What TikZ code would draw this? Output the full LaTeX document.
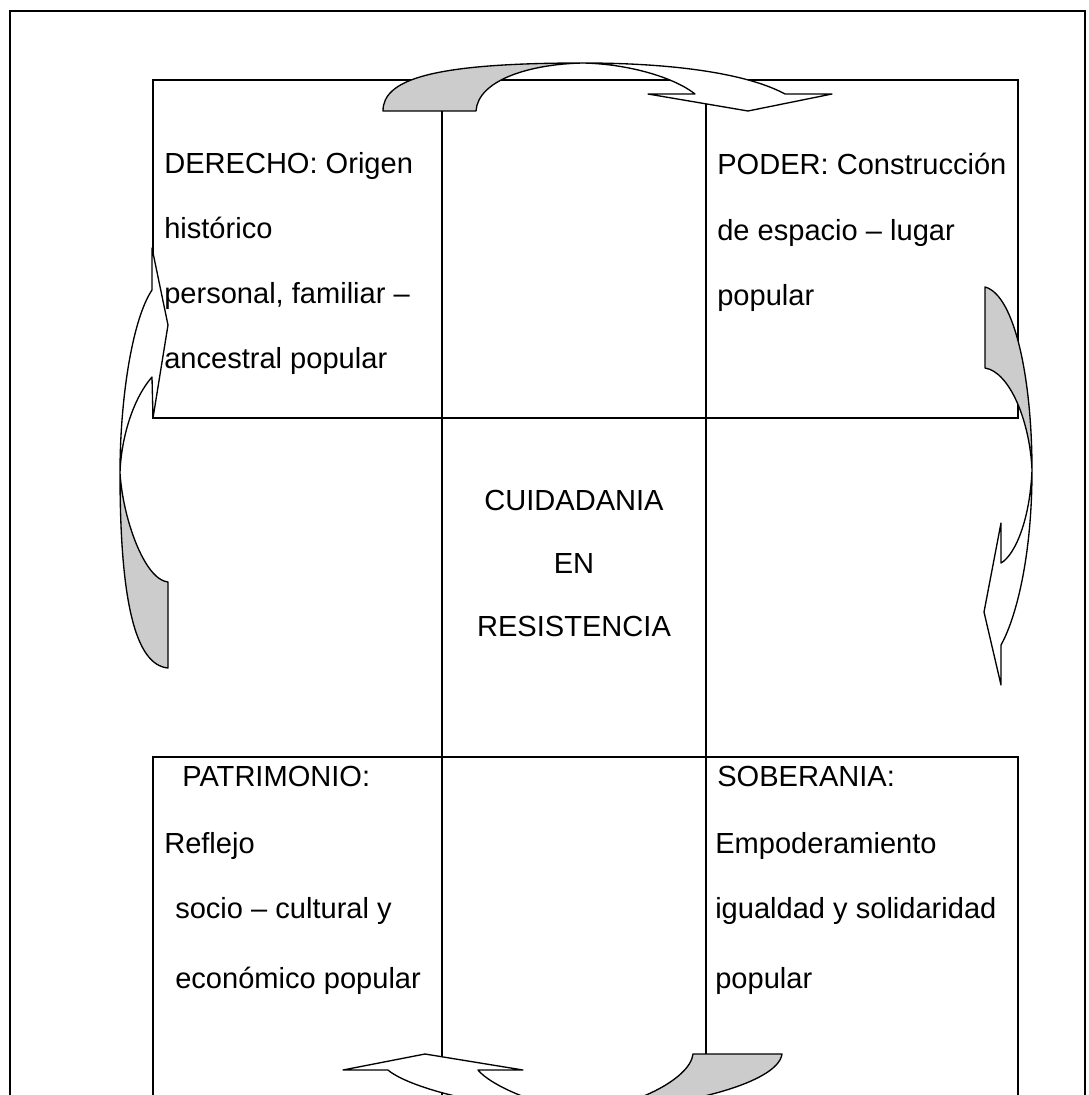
\documentclass[tikz,border=0pt]{standalone}
\usepackage{fontspec}
\setmainfont{Liberation Sans}
\definecolor{arrowgray}{RGB}{204,204,204}
\tikzset{
  cell/.style={line width=1pt},
  frameline/.style={line width=1.5pt},
  band/.style={fill=white, draw=none},
  backside/.style={fill=arrowgray, draw=none},
  outline/.style={line width=1pt, line join=round},
  txt/.style={anchor=base west, inner sep=0pt, font=\fontsize{21.8}{26}\selectfont},
  ctxt/.style={anchor=base, inner sep=0pt, font=\fontsize{21.8}{26}\selectfont},
}
\begin{document}
\begin{tikzpicture}[x=0.75pt,y=-0.75pt]
\useasboundingbox (0,0) rectangle (1088,1095);
\clip (0,0) rectangle (1088,1095);
% outer frame
\draw[frameline] (10,1200) -- (10,11) -- (1085,11) -- (1085,1200);
% table
\draw[cell] (153,80) rectangle (1018,418);
\draw[cell] (153,1200) -- (153,757) -- (1018,757) -- (1018,1200);
\draw[cell] (442,80) -- (442,1200);
\draw[cell] (706,80) -- (706,1200);
% texts
\node[txt] (der1) at (164,173) {DERECHO: Origen};
\node[txt] (der2) at (164,238) {histórico};
\node[txt] (der3) at (164,303) {personal, familiar –};
\node[txt] (der4) at (164,368) {ancestral popular};
\node[txt] (pod1) at (717,175) {PODER: Construcción};
\node[txt] (pod2) at (717,240) {de espacio – lugar};
\node[txt] (pod3) at (717,305) {popular};
\node[ctxt] (cen1) at (574,510) {CUIDADANIA};
\node[ctxt] (cen2) at (574,573) {EN};
\node[ctxt] (cen3) at (574,636) {RESISTENCIA};
\node[txt] (pat1) at (182,786) {PATRIMONIO:};
\node[txt] (pat2) at (164,853) {Reflejo};
\node[txt] (pat3) at (175,918) {socio – cultural y};
\node[txt] (pat4) at (175,988) {económico popular};
\node[txt] (sob1) at (717,786) {SOBERANIA:};
\node[txt] (sob2) at (715,853) {Empoderamiento};
\node[txt] (sob3) at (715,918) {igualdad y solidaridad};
\node[txt] (sob4) at (715,988) {popular};
% ---- top curved arrow
\fill[backside] (383,111) .. controls (383,80) and (430,63) .. (583,63)
  .. controls (530,64) and (478,80) .. (476,111) -- cycle;
\fill[band] (583,63) .. controls (680,63) and (750,75) .. (785,94) -- (832,94) -- (748,111)
  -- (648,94) -- (695,94) .. controls (675,78) and (630,64) .. (583,63) -- cycle;
\draw[outline] (476,111) -- (383,111) .. controls (383,80) and (430,63) .. (583,63)
  .. controls (680,63) and (750,75) .. (785,94) -- (832,94) -- (748,111) -- (648,94) -- (695,94)
  .. controls (675,78) and (630,64) .. (583,63) .. controls (530,64) and (478,80) .. (476,111) -- cycle;
% ---- right curved arrow
\fill[backside] (985,287) .. controls (1015,295) and (1032,380) .. (1032,470)
  .. controls (1030,422) and (1010,372) .. (985,368) -- cycle;
\fill[band] (1032,470) .. controls (1032,560) and (1015,620) .. (1001,645) -- (1001,685) -- (984,612)
  -- (1001,523) -- (1001,563) .. controls (1015,555) and (1030,520) .. (1032,470) -- cycle;
\draw[outline] (985,368) -- (985,287) .. controls (1015,295) and (1032,380) .. (1032,470)
  .. controls (1032,560) and (1015,620) .. (1001,645) -- (1001,685) -- (984,612) -- (1001,523) -- (1001,563)
  .. controls (1015,555) and (1030,520) .. (1032,470) .. controls (1030,422) and (1010,372) .. (985,368) -- cycle;
% ---- left curved arrow
\fill[band] (152,290) .. controls (132,320) and (120,400) .. (120,473)
  .. controls (121,440) and (132,400) .. (152,377) -- (153,418) -- (168,325) -- (152,248) -- cycle;
\fill[backside] (120,473) .. controls (120,600) and (135,665) .. (168,668) -- (168,582)
  .. controls (145,580) and (123,520) .. (120,473) -- cycle;
\draw[outline] (152,248) -- (152,290) .. controls (132,320) and (120,400) .. (120,473)
  .. controls (120,600) and (135,665) .. (168,668) -- (168,582)
  .. controls (145,580) and (123,520) .. (120,473) .. controls (121,440) and (132,400) .. (152,377)
  -- (153,418) -- (168,325) -- cycle;
% ---- bottom curved arrow
\fill[backside] (782,1054) .. controls (778,1085) and (670,1110) .. (585,1110)
  .. controls (630,1108) and (690,1080) .. (693,1054) -- cycle;
\fill[band] (585,1110) .. controls (480,1110) and (405,1085) .. (388,1070) -- (343,1070) -- (425,1054)
  -- (523,1070) -- (478,1070) .. controls (490,1085) and (540,1108) .. (585,1110) -- cycle;
\draw[outline] (693,1054) -- (782,1054) .. controls (778,1085) and (670,1110) .. (585,1110)
  .. controls (480,1110) and (405,1085) .. (388,1070) -- (343,1070) -- (425,1054) -- (523,1070) -- (478,1070)
  .. controls (490,1085) and (540,1108) .. (585,1110) .. controls (630,1108) and (690,1080) .. (693,1054) -- cycle;
\end{tikzpicture}
\end{document}
